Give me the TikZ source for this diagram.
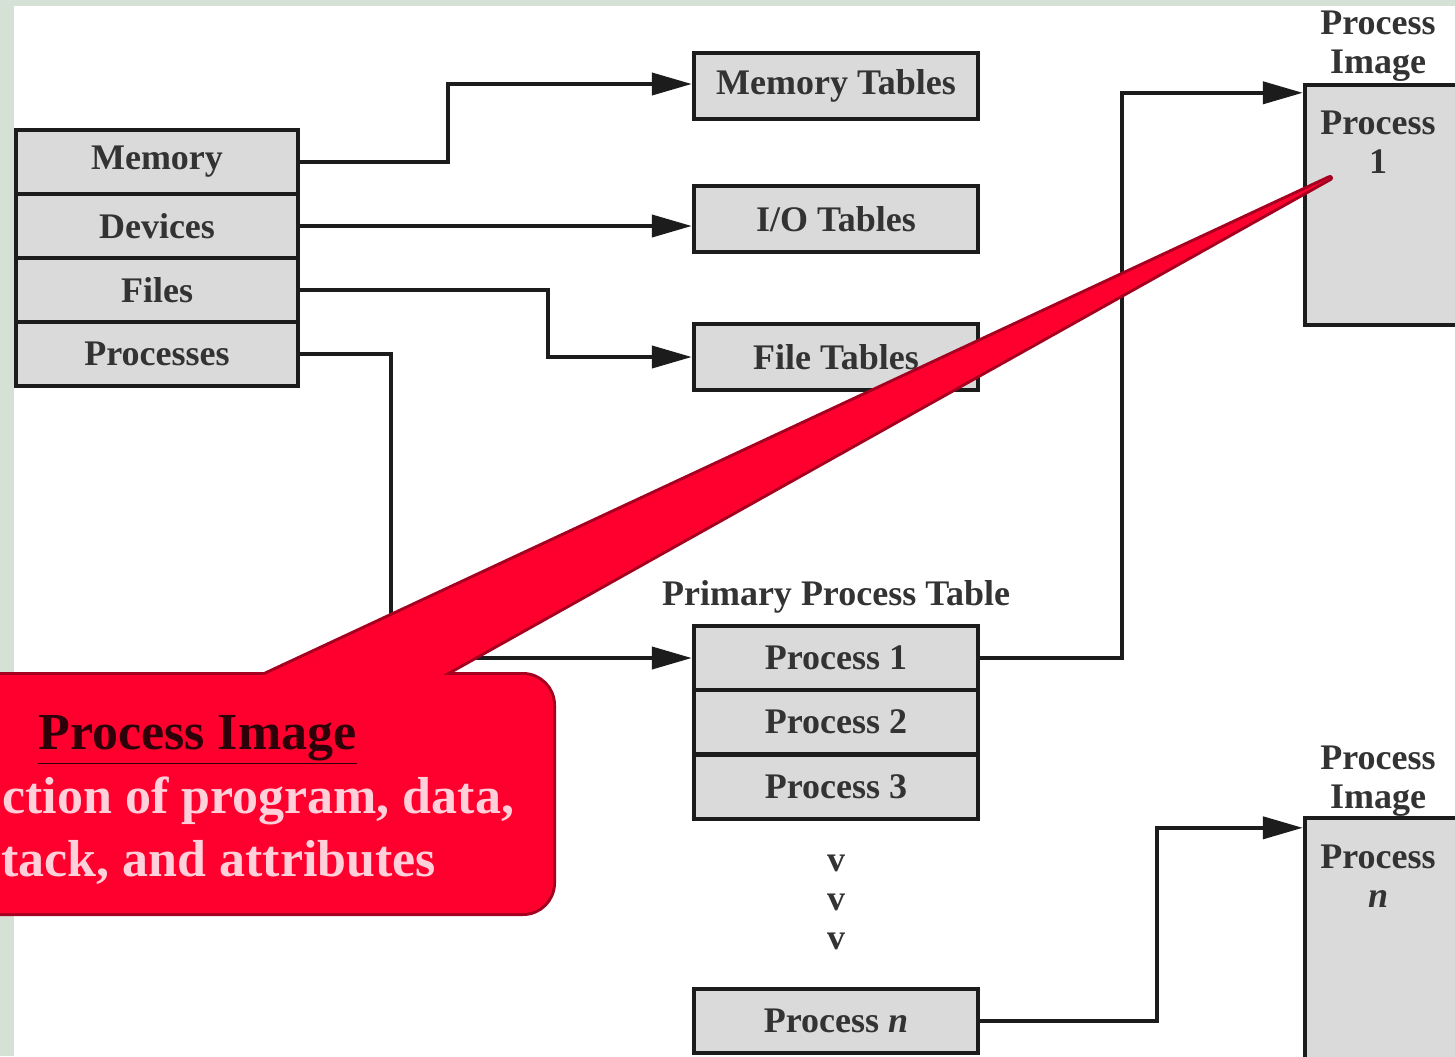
\documentclass[tikz,border=0pt]{standalone}
\usepackage{fontspec}
\setmainfont{Liberation Serif}
\usetikzlibrary{arrows.meta,calc}
\definecolor{framegreen}{RGB}{214,225,214}
\definecolor{boxgray}{RGB}{218,218,218}
\definecolor{calloutred}{RGB}{255,0,46}
\definecolor{calloutedge}{RGB}{165,0,32}
\definecolor{titledark}{RGB}{45,0,10}
\definecolor{bodypink}{RGB}{255,208,218}
\definecolor{ink}{RGB}{28,28,28}
\begin{document}
\begin{tikzpicture}[x=0.5pt,y=-0.5pt,
  lbl/.style={font=\fontsize{18}{19.5}\selectfont\bfseries, text=ink!90, inner sep=0pt, align=center},
  cell/.style={lbl, draw=ink, line width=2.2pt, fill=boxgray, minimum width=141pt, minimum height=32pt},
  tabbox/.style={cell, minimum width=142pt, minimum height=33pt},
  imgbox/.style={draw=ink, line width=2.2pt, fill=boxgray, minimum width=85pt, inner sep=0pt},
  conn/.style={draw=ink, line width=2pt},
  arr/.style={conn, -{Triangle[length=20pt,width=11pt]}},
  calloutline/.style={draw=calloutedge, line width=3pt, line join=round},
  callouttitle/.style={font=\fontsize{26}{30}\selectfont\bfseries, text=titledark, inner sep=0pt},
  calloutbody/.style={font=\fontsize{26}{30}\selectfont\bfseries, text=bodypink, inner sep=0pt}
]
% background and frame
\useasboundingbox (0,0) rectangle (1455,1056);
\fill[framegreen] (0,0) rectangle (1455,1056);
\fill[white] (14,6) rectangle (1455,1056);

% left table
\node[cell] (mem)  at (157,162) {Memory};
\node[cell] (dev)  at (157,226) {Devices};
\node[cell] (fil)  at (157,290) {Files};
\node[cell] (proc) at (157,354) {Processes};

% tables
\node[tabbox] (memtab)  at (836,86)  {Memory Tables};
\node[tabbox] (iotab)   at (836,219) {I/O Tables};
\node[tabbox] (filetab) at (836,357) {File Tables};

% primary process table
\node[lbl] (ppt) at (836,597) {Primary Process Table};
\node[cell, minimum width=142pt] (p1) at (836,658) {Process 1};
\node[cell, minimum width=142pt] (p2) at (836,722) {Process 2};
\node[cell, minimum width=142pt] (p3) at (836,787) {Process 3};
\node[lbl] (d1) at (836,863) {v};
\node[lbl] (d2) at (836,902) {v};
\node[lbl] (d3) at (836,941) {v};
\node[cell, minimum width=142pt] (pn) at (836,1021) {Process \textit{n}};

% process images
\node[lbl] (img1lbl) at (1378,46) {Process\\Image};
\node[imgbox, minimum height=120pt] (img1) at (1390,205) {};
\node[lbl] (img1txt) at (1378,142) {Process\\1};
\node[lbl] (imgnlbl) at (1378,781) {Process\\Image};
\node[imgbox, minimum height=136pt] (imgn) at (1390,954) {};
\node[lbl] (imgntxt) at (1378,876) {Process\\\textit{n}};

% connectors
\draw[arr] (mem.east) -- ++(148,0) |- ([yshift=1pt]memtab.west);
\draw[arr] (dev.east) -- (dev.east -| iotab.west);
\draw[arr] (fil.east) -- ++(248,0) |- (filetab.west);
\draw[arr] (proc.east) -- ++(91,0) |- (p1.west);
\draw[arr] (p1.east) -- ++(142,0) |- ([yshift=-5pt]img1.north west);
\draw[arr] (pn.east) -- ++(177,0) |- ([yshift=-6pt]imgn.north west);

% callout
\coordinate (tip) at (1330,178);
\draw[calloutline, rounded corners=15pt] (-60,675) rectangle (553,913);
\draw[calloutline] (211,700) -- (tip) -- (398,700) -- cycle;
\fill[calloutred, rounded corners=15pt] (-60,675) rectangle (553,913);
\fill[calloutred] (211,700) -- (tip) -- (398,700) -- cycle;
\node[callouttitle, anchor=base west] (ctitle) at (38,749) {\underline{Process Image}};
\node[calloutbody, anchor=base west] (cbody1) at (2,813) {ction of program, data,};
\node[calloutbody, anchor=base west] (cbody2) at (1,876) {tack, and attributes};
\end{tikzpicture}
\end{document}
